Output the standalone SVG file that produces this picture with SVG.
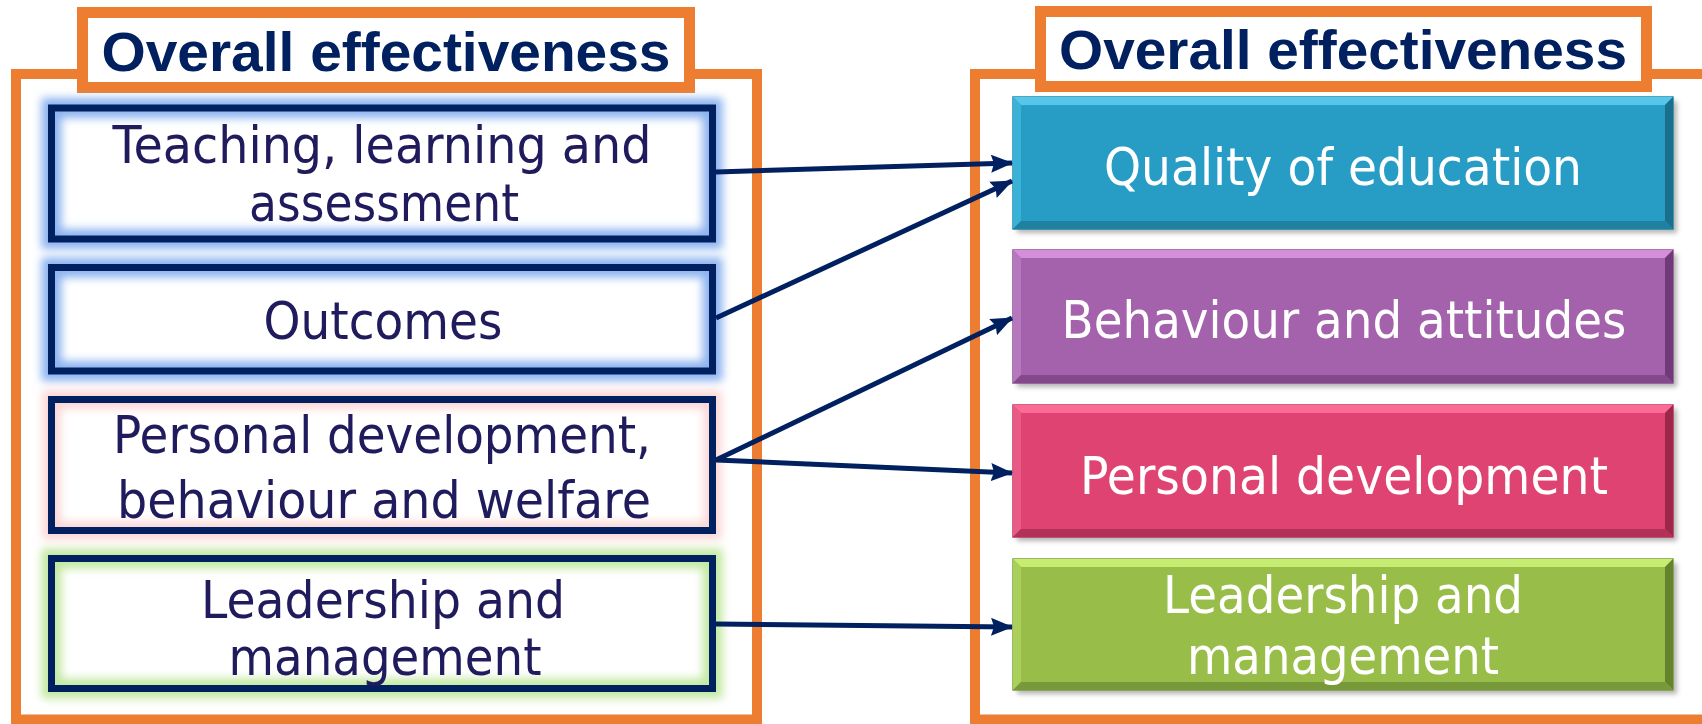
<svg xmlns="http://www.w3.org/2000/svg" width="1702" height="724" viewBox="0 0 1702 724">
<style>
.frame{fill:none;stroke:#ED7D31;stroke-width:10}
.tbox{fill:#fff;stroke:#ED7D31;stroke-width:11}
.title{font-family:"Liberation Sans",Arial,sans-serif;font-weight:bold;font-size:56px;fill:#002060;text-anchor:middle}
.ltxt{font-family:"DejaVu Sans",Verdana,sans-serif;font-size:51px;fill:#201B5C;text-anchor:middle}
.rtxt{font-family:"DejaVu Sans",Verdana,sans-serif;font-size:51px;fill:#fff;text-anchor:middle}
.border{fill:none;stroke:#002060;stroke-width:7}
.conn{stroke:#002060;stroke-width:5;fill:none;marker-end:url(#arr)}
</style>
<defs>
<filter id="blur" x="-10%" y="-20%" width="120%" height="140%"><feGaussianBlur stdDeviation="4"/></filter>
<filter id="shadow" x="-10%" y="-20%" width="120%" height="140%"><feGaussianBlur stdDeviation="2.5"/></filter>
<marker id="arr" markerUnits="userSpaceOnUse" markerWidth="22" markerHeight="18" refX="21" refY="9" orient="auto"><path d="M0,0 L22,9 L0,18 L3,9 z" fill="#002060"/></marker>
</defs>
<rect width="1702" height="724" fill="#fff"/>

<g id="left-frame">
<rect class="frame" x="16" y="74" width="741" height="645.5"/>
<rect class="tbox" x="82.5" y="12.5" width="607" height="75"/>
<text class="title" x="386" y="71" textLength="569" lengthAdjust="spacingAndGlyphs">Overall effectiveness</text>
</g>
<g id="right-frame">
<rect class="frame" x="975" y="74" width="760" height="645.5"/>
<rect class="tbox" x="1040.5" y="11.5" width="606" height="75"/>
<text class="title" x="1343" y="69" textLength="568" lengthAdjust="spacingAndGlyphs">Overall effectiveness</text>
</g>

<g id="teaching">
<rect x="51.5" y="108" width="661" height="131" fill="#fff"/>
<rect x="51.5" y="108" width="661" height="131" fill="none" stroke="#8DB3F0" stroke-width="20" filter="url(#blur)"/>
<rect class="border" x="51.5" y="108" width="661" height="131"/>
<text class="ltxt" x="382" y="163" textLength="539" lengthAdjust="spacingAndGlyphs">Teaching, learning and</text>
<text class="ltxt" x="384" y="221" textLength="270" lengthAdjust="spacingAndGlyphs">assessment</text>
</g>
<g id="outcomes">
<rect x="51.5" y="267.5" width="661" height="103.5" fill="#fff"/>
<rect x="51.5" y="267.5" width="661" height="103.5" fill="none" stroke="#8DB3F0" stroke-width="20" filter="url(#blur)"/>
<rect class="border" x="51.5" y="267.5" width="661" height="103.5"/>
<text class="ltxt" x="383" y="339" textLength="239" lengthAdjust="spacingAndGlyphs">Outcomes</text>
</g>
<g id="personal">
<rect x="51.5" y="399.5" width="661" height="131" fill="#fff"/>
<rect x="51.5" y="399.5" width="661" height="131" fill="none" stroke="#FCD6D6" stroke-width="18" filter="url(#blur)"/>
<rect class="border" x="51.5" y="399.5" width="661" height="131"/>
<text class="ltxt" x="382" y="453" textLength="538" lengthAdjust="spacingAndGlyphs">Personal development,</text>
<text class="ltxt" x="384" y="518" textLength="534" lengthAdjust="spacingAndGlyphs">behaviour and welfare</text>
</g>
<g id="leadership">
<rect x="51.5" y="558.5" width="661" height="130" fill="#fff"/>
<rect x="51.5" y="558.5" width="661" height="130" fill="none" stroke="#C2E9A2" stroke-width="20" filter="url(#blur)"/>
<rect class="border" x="51.5" y="558.5" width="661" height="130"/>
<text class="ltxt" x="383" y="618" textLength="364" lengthAdjust="spacingAndGlyphs">Leadership and</text>
<text class="ltxt" x="385" y="675" textLength="313" lengthAdjust="spacingAndGlyphs">management</text>
</g>

<g id="quality">
<rect x="1017" y="101" width="660" height="132" fill="#777" opacity="0.55" filter="url(#shadow)"/>
<rect x="1013" y="97" width="660" height="132" fill="#279CC4" stroke="#1E86A8" stroke-width="1.5"/>
<polygon points="1013,97 1673,97 1665,105 1021,105" fill="#56C7EA"/>
<polygon points="1013,97 1021,105 1021,221 1013,229" fill="#3AB1D7"/>
<polygon points="1673,97 1673,229 1665,221 1665,105" fill="#1A6F8C"/>
<polygon points="1013,229 1021,221 1665,221 1673,229" fill="#1F809F"/>
<text class="rtxt" x="1343" y="185" textLength="478" lengthAdjust="spacingAndGlyphs">Quality of education</text>
</g>
<g id="behaviour">
<rect x="1017" y="254" width="660" height="133" fill="#777" opacity="0.55" filter="url(#shadow)"/>
<rect x="1013" y="250" width="660" height="133" fill="#A461AC" stroke="#8A4D92" stroke-width="1.5"/>
<polygon points="1013,250 1673,250 1665,258 1021,258" fill="#D58FDA"/>
<polygon points="1013,250 1021,258 1021,375 1013,383" fill="#B577BD"/>
<polygon points="1673,250 1673,383 1665,375 1665,258" fill="#6F3A77"/>
<polygon points="1013,383 1021,375 1665,375 1673,383" fill="#85488D"/>
<text class="rtxt" x="1344" y="338" textLength="565" lengthAdjust="spacingAndGlyphs">Behaviour and attitudes</text>
</g>
<g id="personal-dev">
<rect x="1017" y="409" width="660" height="132" fill="#777" opacity="0.55" filter="url(#shadow)"/>
<rect x="1013" y="405" width="660" height="132" fill="#DF4372" stroke="#BC3460" stroke-width="1.5"/>
<polygon points="1013,405 1673,405 1665,413 1021,413" fill="#FB6B96"/>
<polygon points="1013,405 1021,413 1021,529 1013,537" fill="#E95A86"/>
<polygon points="1673,405 1673,537 1665,529 1665,413" fill="#9C274B"/>
<polygon points="1013,537 1021,529 1665,529 1673,537" fill="#B33058"/>
<text class="rtxt" x="1344" y="494" textLength="528" lengthAdjust="spacingAndGlyphs">Personal development</text>
</g>
<g id="leadership-mgmt">
<rect x="1017" y="563" width="660" height="131" fill="#777" opacity="0.55" filter="url(#shadow)"/>
<rect x="1013" y="559" width="660" height="131" fill="#98BD48" stroke="#7E9F3B" stroke-width="1.5"/>
<polygon points="1013,559 1673,559 1665,567 1021,567" fill="#C6EC72"/>
<polygon points="1013,559 1021,567 1021,682 1013,690" fill="#AAD05B"/>
<polygon points="1673,559 1673,690 1665,682 1665,567" fill="#64832E"/>
<polygon points="1013,690 1021,682 1665,682 1673,690" fill="#78993A"/>
<text class="rtxt" x="1343" y="613" textLength="360" lengthAdjust="spacingAndGlyphs">Leadership and</text>
<text class="rtxt" x="1343" y="674" textLength="312" lengthAdjust="spacingAndGlyphs">management</text>
</g>

<g id="connectors">
<line class="conn" x1="716" y1="172" x2="1012" y2="163"/>
<line class="conn" x1="716" y1="318" x2="1012" y2="181"/>
<line class="conn" x1="716" y1="460" x2="1012" y2="318"/>
<line class="conn" x1="716" y1="460" x2="1012" y2="473"/>
<line class="conn" x1="716" y1="624" x2="1012" y2="627"/>
</g>
</svg>
